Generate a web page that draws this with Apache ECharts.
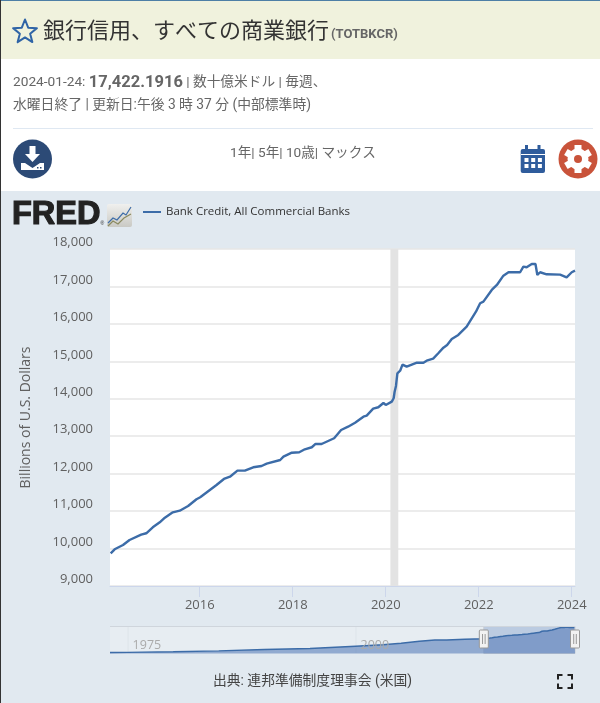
<!DOCTYPE html>
<html><head><meta charset="utf-8">
<style>html,body{margin:0;padding:0;background:#fff}#c{width:600px;height:703px}</style>
<script src="https://cdn.jsdelivr.net/npm/echarts@6/dist/echarts.min.js"></script>
</head><body><div id="c"></div>
<script>
const seriesName = 'Bank Credit, All Commercial Banks';
const sampleYears = [2014.085,2014.17,2014.35,2014.49,2014.74,2014.85,2014.99,2015.14,2015.25,2015.42,2015.57,2015.75,2015.93,2016.01,2016.16,2016.36,2016.52,2016.65,2016.81,2016.97,2017.15,2017.33,2017.44,2017.73,2017.80,2017.98,2018.14,2018.26,2018.41,2018.49,2018.62,2018.89,2019.04,2019.19,2019.34,2019.52,2019.59,2019.73,2019.84,2019.95,2020.0,2020.13,2020.17,2020.19,2020.22,2020.25,2020.31,2020.36,2020.45,2020.67,2020.81,2020.88,2021.02,2021.13,2021.24,2021.32,2021.42,2021.56,2021.74,2021.85,2021.94,2022.03,2022.10,2022.28,2022.39,2022.53,2022.64,2022.89,2022.96,2023.03,2023.14,2023.22,2023.26,2023.32,2023.46,2023.75,2023.89,2024.0,2024.07];
const bankCredit = [9873,9980,10095,10229,10370,10408,10568,10701,10824,10968,11011,11137,11316,11369,11511,11698,11858,11919,12080,12080,12170,12205,12267,12365,12454,12560,12571,12651,12705,12793,12793,12945,13167,13255,13362,13522,13549,13736,13773,13888,13835,13923,14013,14182,14342,14681,14750,14911,14857,14964,14964,15018,15071,15215,15365,15437,15597,15704,15926,16150,16326,16551,16594,16906,17040,17288,17379,17379,17529,17513,17601,17601,17307,17379,17325,17315,17245,17379,17422];
const historyYears = [1973.07,1975,1980,1985,1990,1995,2000,2003,2005,2007,2008.7,2010,2012];
const historyCredit = [600,750,1200,1750,2650,3300,4900,5900,6900,8200,9000,9000,9500];
const recession = [2020.1,2020.27];
const selectedRange = [2014.07,2024.07];
const fullRange = [1973.07,2024.07];
const xTickYears = [2016,2018,2020,2022,2024];
const navTickYears = [1975,2000];
const yTicks = {min:9000,max:18000,interval:1000};

const mainData = sampleYears.map((y,i)=>[y,bankCredit[i]]);
const navData = historyYears.map((y,i)=>[y,historyCredit[i]]).concat(mainData);
const latin = '"Open Sans",sans-serif', cjk = 'Roboto,"Noto Sans CJK JP",sans-serif';
const PAGE='#e1e9f0', BLUE='#3c6ca8';

const chart = echarts.init(document.getElementById('c'));
const option = {
  animation:false, backgroundColor:'#fff',
  textStyle:{fontFamily:latin},
  legend:{data:[seriesName],left:143,top:206,icon:'rect',itemWidth:18,itemHeight:2,itemGap:6,padding:0,
    textStyle:{fontSize:11.5,color:'#333',fontFamily:latin}},
  grid:[
    {left:110,top:249,width:465,height:337,show:true,backgroundColor:'#fff',borderWidth:0},
    {left:110,top:626.5,width:465,height:27,show:true,backgroundColor:'#e7edf2',borderWidth:0}
  ],
  xAxis:[
    {type:'value',gridIndex:0,min:selectedRange[0],max:selectedRange[1],scale:true,
     axisLine:{onZero:false,lineStyle:{color:'#ccd6eb',width:1}},
     axisTick:{show:true,length:11,customValues:xTickYears,lineStyle:{color:'#ccd6eb'}},
     axisLabel:{customValues:xTickYears,formatter:v=>String(v),fontSize:13,color:'#606060',margin:13,hideOverlap:false},
     splitLine:{show:false}},
    {type:'value',gridIndex:1,min:fullRange[0],max:fullRange[1],scale:true,
     axisLine:{show:false,onZero:false},
     axisTick:{show:false,customValues:navTickYears},
     axisLabel:{inside:true,customValues:navTickYears,formatter:v=>String(v),fontSize:12.5,color:'#aaa',margin:2,align:'left',padding:[0,0,0,5],hideOverlap:false},
     splitLine:{show:false},z:10}
  ],
  yAxis:[
    {type:'value',gridIndex:0,min:yTicks.min,max:yTicks.max,interval:yTicks.interval,
     name:'Billions of U.S. Dollars',nameLocation:'middle',nameGap:77,nameTextStyle:{fontSize:14,color:'#606060',fontFamily:latin},
     axisLine:{show:false},axisTick:{show:false},
     axisLabel:{formatter:v=>v.toLocaleString('en-US'),fontSize:13,color:'#606060',margin:17,verticalAlign:'bottom'},
     splitLine:{show:true,lineStyle:{color:'#e6e6e6',width:1.5}}},
    {type:'value',gridIndex:1,min:0,max:18000,show:false,splitLine:{show:false}}
  ],
  series:[
    {name:seriesName,type:'line',xAxisIndex:0,yAxisIndex:0,data:mainData,showSymbol:false,symbol:'none',
     lineStyle:{color:BLUE,width:2.4},itemStyle:{color:BLUE},z:5,
     markArea:{silent:true,itemStyle:{color:'#e3e3e3'},z:3,data:[[{xAxis:recession[0]},{xAxis:recession[1]}]]}},
    {name:'navigator',type:'line',xAxisIndex:1,yAxisIndex:1,data:navData,showSymbol:false,symbol:'none',
     lineStyle:{color:BLUE,width:1.5},itemStyle:{color:BLUE},areaStyle:{color:'rgba(88,125,185,0.6)',opacity:1},z:4,
     markArea:{silent:true,z:3,itemStyle:{color:'rgba(92,130,190,0.32)',borderColor:'#c5ccd4',borderWidth:1},
       data:[[{xAxis:selectedRange[0],yAxis:0},{xAxis:selectedRange[1],yAxis:18000}]]}}
  ]
};
chart.setOption(option);

function txt(x,y,text,fs,color,extra){return {type:'text',x,y,z:20,style:Object.assign({text,fontSize:fs,fill:color,fontFamily:cjk,verticalAlign:'middle'},extra||{})};}
function rect(x,y,w,h,fill,extra){return Object.assign({type:'rect',z:1,shape:{x,y,width:w,height:h},style:{fill}},extra||{});}
function star(cx,cy,R,r){const p=[];for(let i=0;i<10;i++){const a=-Math.PI/2+i*Math.PI/5,q=i%2?r:R;p.push([cx+q*Math.cos(a),cy+q*Math.sin(a)]);}return p;}
const g=[];
g.push(rect(0,0,600,59,'#f0f2dd',{z:-1}));
g.push(rect(0,191,600,512,PAGE,{z:-1}));
g.push(rect(0,0,600,1,'#4d7fa6',{z:30}));
g.push(rect(0,0,1,703,'#333',{z:30}));
g.push({type:'polygon',z:20,shape:{points:star(25,32,12.5,5.4)},style:{fill:'none',stroke:'#2f64a6',lineWidth:2,lineJoin:'round'}});
g.push(txt(43,32,'銀行信用、すべての商業銀行',22,'#333'));
g.push(txt(331,35,'(TOTBKCR)',13,'#666',{fontWeight:'bold'}));
g.push({type:'text',x:13,y:83,z:20,style:{verticalAlign:'middle',text:'{a|2024-01-24: }{b|17,422.1916}{a| | 数十億米ドル | 毎週、}',fontFamily:cjk,
  rich:{a:{fontSize:13.7,fill:'#666',fontFamily:cjk},b:{fontSize:16.5,fontWeight:'bold',fill:'#666',fontFamily:cjk}}}});
g.push(txt(13,106,'水曜日終了 | 更新日:午後 3 時 37 分 (中部標準時)',13.8,'#666'));
g.push(rect(13,128,580,1,'#dfe8f2'));
g.push(txt(303,154,'1年| 5年| 10歳| マックス',13.6,'#666',{align:'center'}));
// download icon
g.push({type:'circle',z:20,shape:{cx:32.5,cy:159,r:19.5},style:{fill:'#2c4a76'}});
g.push({type:'polygon',z:21,shape:{points:[[29.5,146],[35.5,146],[35.5,154],[40,154],[32.5,162],[25,154],[29.5,154]]},style:{fill:'#fff'}});
g.push({type:'polygon',z:21,shape:{points:[[21,163],[25,163],[32.5,168],[40,163],[44,163],[44,170],[21,170]]},style:{fill:'#fff'}});
g.push(rect(37,167,1.5,1.5,'#2c4a76',{z:22}),rect(40,167,1.5,1.5,'#2c4a76',{z:22}));
// calendar icon
g.push({type:'rect',z:20,shape:{x:520.7,y:149,width:24.3,height:24,r:2},style:{fill:'#2f5c9c'}});
g.push(rect(525,145,3,6,'#2f5c9c',{z:20}),rect(537.5,145,3,6,'#2f5c9c',{z:20}),rect(521,154,24,1,'#fff',{z:21}));
[0,1,2].forEach(i=>[0,1].forEach(j=>g.push(rect(524.5+i*6.7,158+j*6,4,4,'#fff',{z:21}))));
// gear icon
g.push({type:'circle',z:20,shape:{cx:578,cy:159,r:19.5},style:{fill:'#c9533a'}});
g.push({type:'circle',z:21,shape:{cx:578,cy:159,r:10.5},style:{fill:'#fff'}});
for(let i=0;i<6;i++){g.push({type:'rect',z:21,x:578,y:159,rotation:i*Math.PI/3,shape:{x:-3.5,y:-14,width:7,height:6},style:{fill:'#fff'}});}
g.push({type:'circle',z:22,shape:{cx:578,cy:159,r:4},style:{fill:'#c9533a'}});
// FRED logo
g.push({type:'text',x:12,y:215,z:20,style:{text:'FRED',fontFamily:'"Liberation Sans",sans-serif',fontWeight:'bold',fontSize:32.5,fill:'#222',stroke:'#222',lineWidth:1.2,verticalAlign:'middle'}});
g.push({type:'text',x:100.5,y:224,z:20,style:{text:'®',fontFamily:'"Liberation Sans",sans-serif',fontSize:5,fill:'#222',verticalAlign:'middle'}});
g.push({type:'rect',z:20,shape:{x:107,y:204,width:25,height:23,r:2},style:{fill:new echarts.graphic.LinearGradient(0,0,0,1,[{offset:0,color:'#f0f0ee'},{offset:1,color:'#c9c9c4'}])}});
g.push({type:'polyline',z:21,shape:{points:[[108,223],[113,218],[117,220],[123,213],[126,215],[131,207]]},style:{stroke:'#3c6ca8',fill:'none',lineWidth:1.2}});
g.push({type:'polyline',z:21,shape:{points:[[108,226],[113,221],[118,224],[124,218],[131,214]]},style:{stroke:'#8a8a60',fill:'none',lineWidth:1.2}});
// source and fullscreen
g.push(txt(213,682,'出典: 連邦準備制度理事会 (米国)',13.8,'#444'));
[[558,675,1,1],[572,675,-1,1],[558,688,1,-1],[572,688,-1,-1]].forEach(c=>{
  g.push({type:'polyline',z:20,shape:{points:[[c[0]+c[2]*4.5,c[1]],[c[0],c[1]],[c[0],c[1]+c[3]*4.5]]},style:{stroke:'#222',fill:'none',lineWidth:2}});
});
// navigator top edge + handles, placed through the navigator scale
g.push(rect(110,626,465,1,'#cfd5dc',{z:10}));
navTickYears.forEach(y=>{
  const px=chart.convertToPixel({xAxisIndex:1},y);
  g.push(rect(px,627,1,26,'#dde4ea',{z:1}));
});
selectedRange.forEach(y=>{
  const px=chart.convertToPixel({xAxisIndex:1},y);
  g.push({type:'rect',z:25,shape:{x:px-4.5,y:630,width:9,height:18,r:1},style:{fill:'#f2f2f2',stroke:'#999',lineWidth:1}});
  g.push(rect(px-1.8,634,1,10,'#999',{z:26}),rect(px+0.8,634,1,10,'#999',{z:26}));
});
chart.setOption({graphic:g});
</script></body></html>
